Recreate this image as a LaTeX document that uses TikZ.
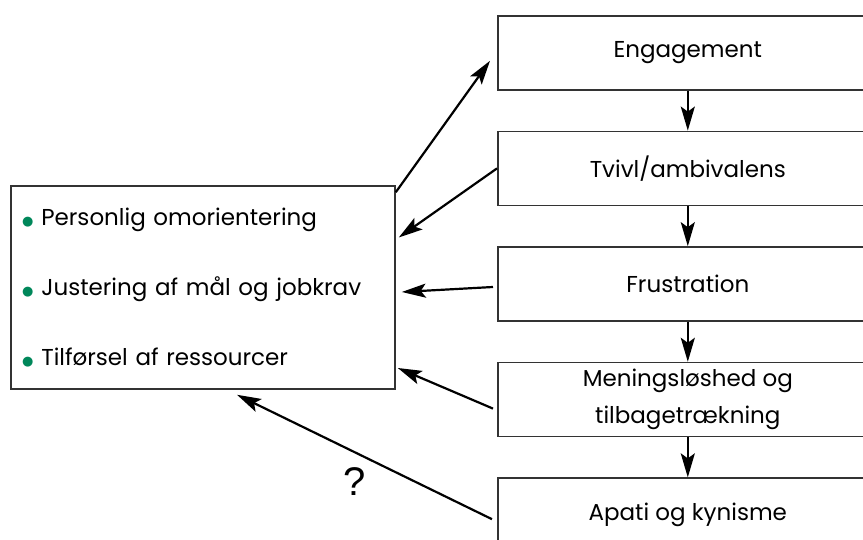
\documentclass[tikz,border=0pt]{standalone}
\usepackage{fontspec}
\setmainfont{Poppins}
\newfontfamily\symfont{DejaVu Sans}
\usetikzlibrary{arrows.meta, positioning}
\definecolor{bulletgreen}{RGB}{0,135,90}
\newcommand{\gbullet}{\textcolor{bulletgreen}{\symfont\fontsize{13}{13}\selectfont ●}\hspace{8pt}}
\tikzstyle{stage} = [rectangle, draw=black!80, line width=1.6pt, minimum height=74pt, minimum width=380pt, align=center, font=\fontsize{23}{37}\selectfont]
\tikzstyle{listbox} = [rectangle, draw=black!80, line width=1.6pt, minimum height=203pt, text width=362pt, inner xsep=11pt, align=left, font=\fontsize{23}{70}\selectfont]
\tikzstyle{arrow} = [line width=2.2pt, -{Stealth[length=24pt, width=14pt, inset=5pt]}]

\begin{document}
\begin{tikzpicture}[x=1pt, y=1pt, node distance=40pt]
\useasboundingbox (0,0) rectangle (863,540);

% Stages
\node (engage) [stage, anchor=north west] at (497,525) {Engagement};
\node (tvivl) [stage, below=of engage] {Tvivl/ambivalens};
\node (frust) [stage, below=of tvivl] {Frustration};
\node (mening) [stage, below=of frust] {Meningsløshed og\\tilbagetrækning};
\node (apati) [stage, below=of mening] {Apati og kynisme};

% Responses
\node (remedy) [listbox] at (203,252.5) {\gbullet Personlig omorientering\\
\gbullet Justering af mål og jobkrav\\
\gbullet Tilførsel af ressourcer};

% Arrows down
\draw [arrow] (engage) -- (tvivl);
\draw [arrow] (tvivl) -- (frust);
\draw [arrow] (frust) -- (mening);
\draw [arrow] (mening) -- (apati);

% Arrows to and from the list
\draw [arrow] ([yshift=-7pt]remedy.north east) -- ([xshift=-7pt,yshift=-8pt]engage.west);
\draw [arrow] (tvivl.west) -- ([xshift=3pt,yshift=50pt]remedy.east);
\draw [arrow] ([xshift=-4pt,yshift=-3pt]frust.west) -- ([xshift=6pt,yshift=-4.5pt]remedy.east);
\draw [arrow] ([xshift=-4pt,yshift=-9pt]mening.west) -- ([xshift=2pt,yshift=-80.5pt]remedy.east);
\draw [arrow] ([xshift=-5pt,yshift=-4pt]apati.west) -- ([xshift=34pt,yshift=-5pt]remedy.south);

\node (quest) at (355,58) {\fontspec{Liberation Sans}\fontsize{40}{40}\selectfont ?};

\end{tikzpicture}
\end{document}
